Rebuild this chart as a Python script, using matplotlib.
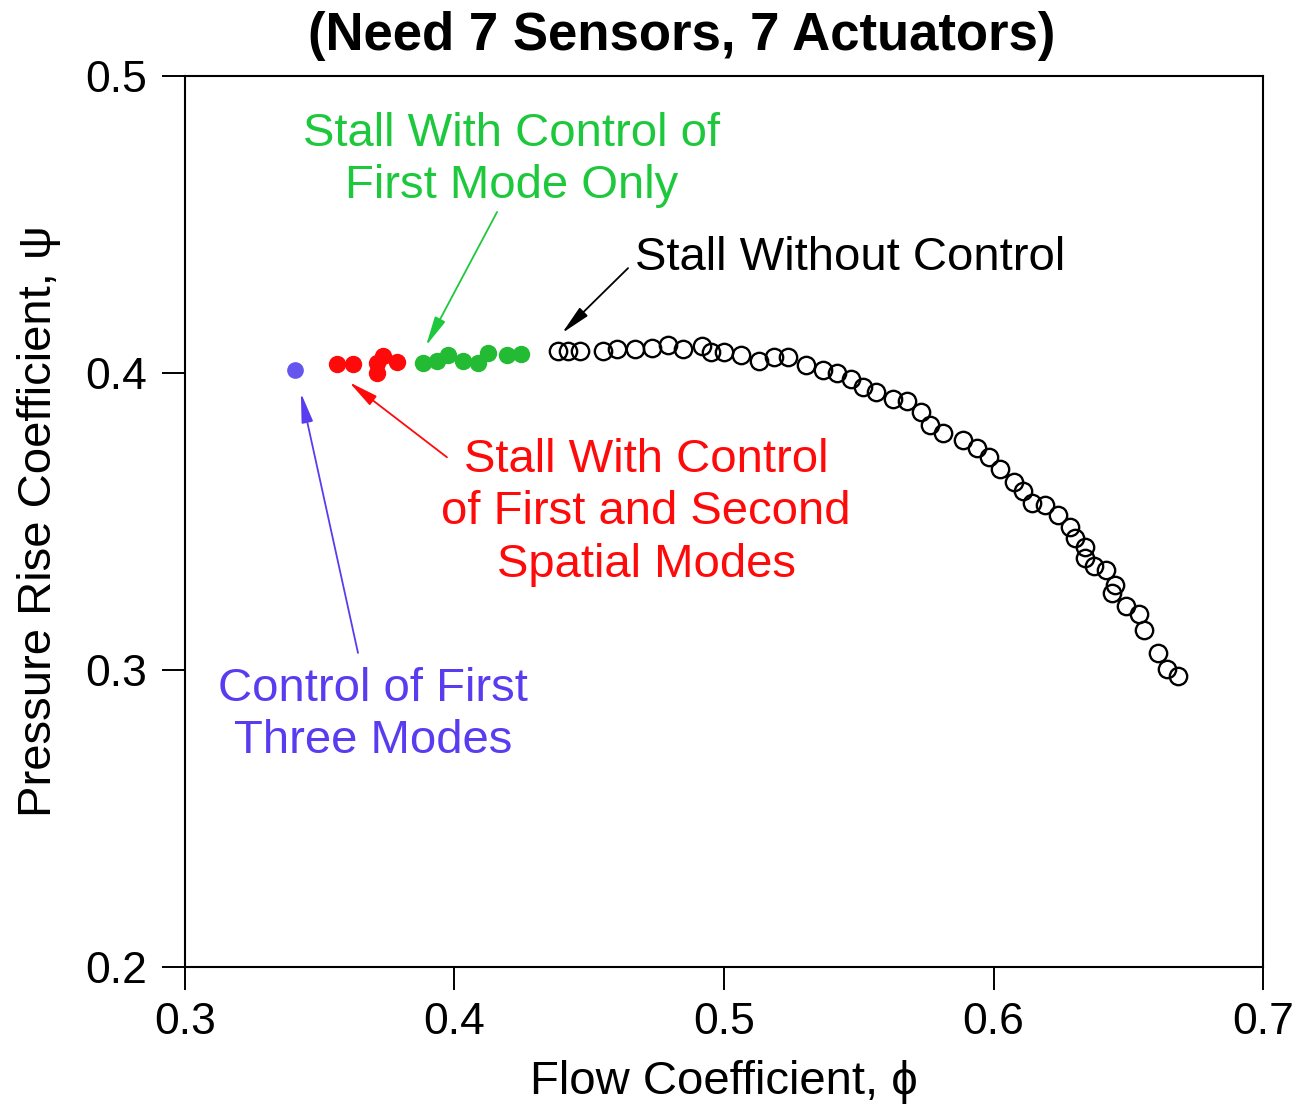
import matplotlib
matplotlib.use("Agg")
import matplotlib.pyplot as plt

plt.rcParams['font.family'] = ['Liberation Sans', 'DejaVu Sans']

# Stall without control (open circles)
phi_open = [0.4384, 0.4421, 0.4466, 0.4551, 0.4603, 0.4670, 0.4733, 0.4792,
            0.4848, 0.4918, 0.4952, 0.5000, 0.5063, 0.5130, 0.5186, 0.5237,
            0.5304, 0.5367, 0.5419, 0.5471, 0.5516, 0.5564, 0.5627, 0.5679,
            0.5731, 0.5764, 0.5813, 0.5887, 0.5939, 0.5983, 0.6024, 0.6076,
            0.6109, 0.6143, 0.6191, 0.6239, 0.6284, 0.6302, 0.6340, 0.6340,
            0.6373, 0.6417, 0.6451, 0.6440, 0.6492, 0.6540, 0.6558, 0.6610,
            0.6644, 0.6685]
psi_open = [0.4074, 0.4074, 0.4074, 0.4074, 0.4081, 0.4081, 0.4084, 0.4094,
            0.4081, 0.4091, 0.4071, 0.4071, 0.4061, 0.4040, 0.4054, 0.4054,
            0.4027, 0.4010, 0.4000, 0.3980, 0.3953, 0.3936, 0.3912, 0.3906,
            0.3869, 0.3825, 0.3798, 0.3775, 0.3748, 0.3718, 0.3677, 0.3634,
            0.3603, 0.3562, 0.3556, 0.3522, 0.3482, 0.3444, 0.3414, 0.3377,
            0.3350, 0.3336, 0.3286, 0.3259, 0.3215, 0.3188, 0.3134, 0.3056,
            0.3002, 0.2979]

# Stall with control of first mode only
phi_first = [0.3883, 0.3935, 0.3976, 0.4032, 0.4087, 0.4124, 0.4195, 0.4247]
psi_first = [0.4033, 0.4040, 0.4060, 0.4040, 0.4033, 0.4067, 0.4060, 0.4064]

# Stall with control of first and second modes
phi_second = [0.3564, 0.3623, 0.3712, 0.3735, 0.3712, 0.3787]
psi_second = [0.4030, 0.4030, 0.4033, 0.4057, 0.4000, 0.4037]

# Control of first three modes
phi_third = [0.3408]
psi_third = [0.4010]

green = '#1ec83c'
red = '#ff0a0a'
blue = '#5a3cf0'

fig = plt.figure(figsize=(13.09, 11.13), dpi=100)
ax = fig.add_axes([0.1413, 0.1314, 0.8236, 0.8003])

ax.plot(phi_open, psi_open, 'o', ms=12.5, mfc='none', mec='black', mew=1.7)
ax.plot(phi_first, psi_first, 'o', ms=11.5, color='#22bb33', mec='#22bb33')
ax.plot(phi_second, psi_second, 'o', ms=11.5, color=red, mec=red)
ax.plot(phi_third, psi_third, 'o', ms=11, color='#6655ee', mec='#6655ee')

ax.set_xlim(0.3, 0.7)
ax.set_ylim(0.2, 0.5)
ax.set_xticks([0.3, 0.4, 0.5, 0.6, 0.7])
ax.set_yticks([0.2, 0.3, 0.4, 0.5])
ax.set_xticklabels(['0.3', '0.4', '0.5', '0.6', '0.7'])
ax.set_yticklabels(['0.2', '0.3', '0.4', '0.5'])
ax.tick_params(direction='out', length=16.5, width=1.4, labelsize=32)
ax.tick_params(axis='x', pad=9)
ax.tick_params(axis='y', pad=11)
for s in ax.spines.values():
    s.set_linewidth(1.5)

ax.set_xlabel('Flow Coefficient, \u03d5', fontsize=34, labelpad=12)
ax.set_ylabel('Pressure Rise Coefficient, \u03c8', fontsize=34, labelpad=17)

fig.text(0.521, 0.968, '(Need 7 Sensors, 7 Actuators)', fontsize=38,
         fontweight='bold', ha='center', va='center')

arrow = dict(arrowstyle='-|>,head_length=1.8,head_width=0.35', lw=1.3,
             shrinkA=0, shrinkB=0)

# green label
ax.text(0.4213, 0.4717, 'Stall With Control of\nFirst Mode Only', color=green,
        fontsize=34, ha='center', va='center', linespacing=1.25)
ax.annotate('', xy=(0.3894, 0.4091), xytext=(0.4158, 0.4542),
            arrowprops=dict(arrow, color=green))

# black label
ax.text(0.4670, 0.4387, 'Stall Without Control', color='black',
        fontsize=34, ha='left', va='center')
ax.annotate('', xy=(0.4399, 0.4134), xytext=(0.4644, 0.4353),
            arrowprops=dict(arrow, color='black'))

# red label
ax.text(0.4711, 0.3531, 'Stall With Control\nof First and Second\nSpatial Modes',
        color=red, fontsize=34, ha='center', va='center', linespacing=1.25)
ax.annotate('', xy=(0.3609, 0.3969), xytext=(0.3972, 0.3716),
            arrowprops=dict(arrow, color=red))

# blue label
ax.text(0.3698, 0.2848, 'Control of First\nThree Modes', color=blue,
        fontsize=34, ha='center', va='center', linespacing=1.25)
ax.annotate('', xy=(0.3430, 0.3933), xytext=(0.3642, 0.3057),
            arrowprops=dict(arrow, color=blue))

fig.savefig('out.png', dpi=100)
